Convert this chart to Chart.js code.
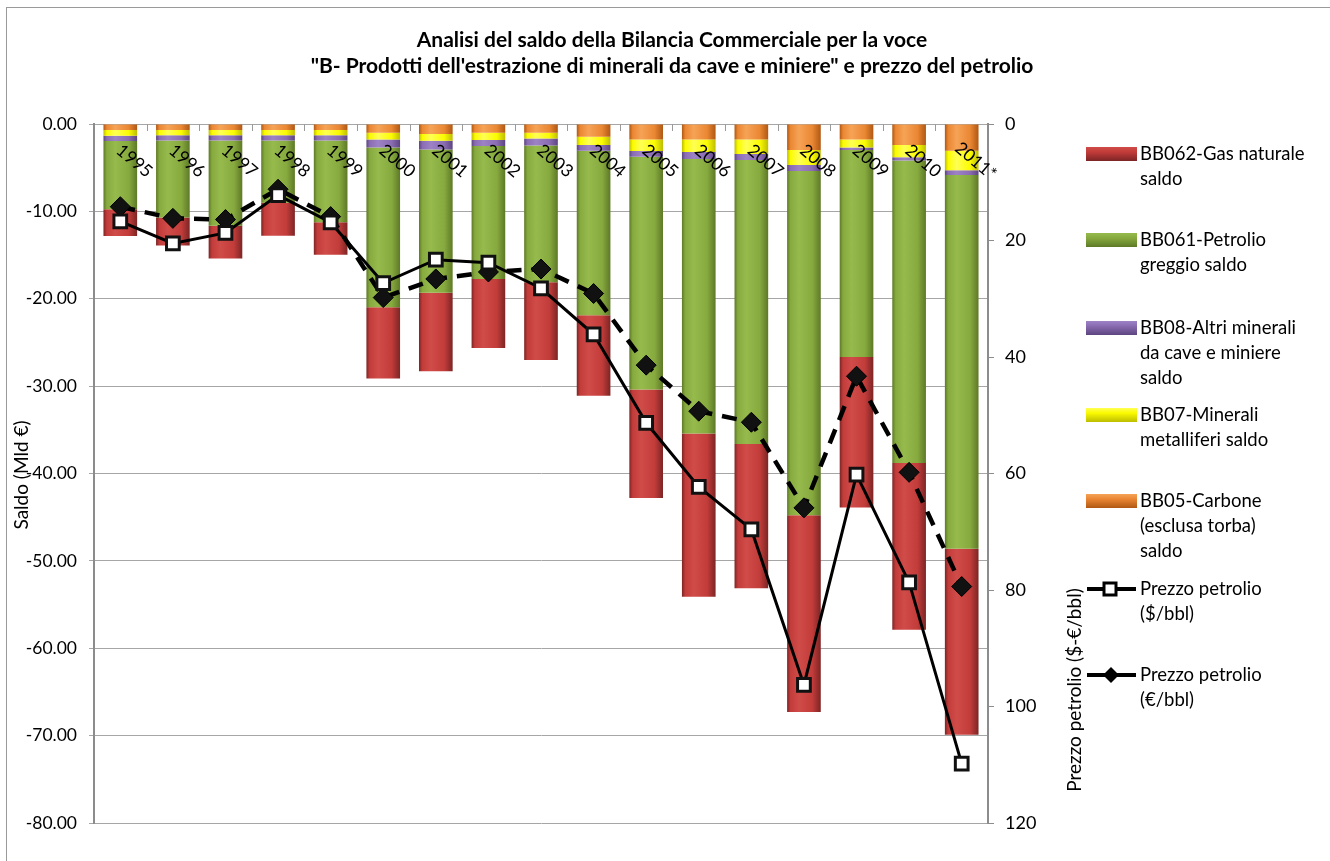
<!DOCTYPE html>
<html lang="it">
<head>
<meta charset="utf-8">
<title>Saldo Bilancia Commerciale - voce B</title>
<script src="https://cdn.jsdelivr.net/npm/chart.js@4.4.1/dist/chart.umd.min.js"></script>
<style>
    html, body { margin: 0; padding: 0; background: #ffffff; }
    #wrap { position: relative; width: 1330px; height: 861px; }
</style>
</head>
<body>
<div id="wrap"><canvas id="bilanciaChart"></canvas></div>
<script>
// Dati (Mld €, saldo negativo)
const anni = ['1995', '1996', '1997', '1998', '1999', '2000', '2001', '2002', '2003',
              '2004', '2005', '2006', '2007', '2008', '2009', '2010', '2011*'];

const carbone     = [-0.70, -0.70, -0.70, -0.70, -0.70, -1.00, -1.15, -1.00, -1.00, -1.45, -1.76, -1.76, -1.76, -2.98, -1.76, -2.40, -3.06];
const metalliferi = [-0.65, -0.60, -0.60, -0.60, -0.60, -0.76, -0.76, -0.84, -0.65, -0.95, -1.34, -1.45, -1.68, -1.72, -0.92, -1.41, -2.22];
const altriMinerali = [-0.60, -0.60, -0.60, -0.60, -0.60, -0.92, -1.00, -0.69, -0.80, -0.65, -0.65, -0.80, -0.69, -0.69, -0.30, -0.38, -0.57];
const petrolio    = [-7.80, -8.80, -9.75, -7.10, -9.35, -18.30, -16.40, -15.20, -15.65, -18.85, -26.65, -31.40, -32.50, -39.40, -23.70, -34.60, -42.75];
const gasNaturale = [-3.06, -3.20, -3.75, -3.80, -3.70, -8.15, -9.00, -7.90, -8.90, -9.20, -12.40, -18.70, -16.50, -22.50, -17.20, -19.10, -21.30];

// Prezzo del petrolio (asse destro, invertito)
const prezzoDollari = [16.7, 20.5, 18.7, 12.2, 16.9, 27.3, 23.3, 23.8, 28.2, 36.1, 51.3, 62.3, 69.6, 96.3, 60.2, 78.7, 109.8];
const prezzoEuro    = [14.2, 16.2, 16.4, 11.2, 15.9, 29.8, 26.6, 25.4, 24.9, 29.1, 41.4, 49.3, 51.2, 65.9, 43.3, 59.8, 79.4];

const tickSinistra = { min: -80, max: 0, passo: 10 };
const tickDestra = { min: 0, max: 120, passo: 20 };

const FONT = 'Lato, "Open Sans", sans-serif';
const LARGHEZZA_BARRA = 0.64;

// Colori delle serie: [bordo scuro, medio, chiaro]
const colori = {
    gas:         ['#7c2525', '#c23c3a', '#d04c49'],
    petrolio:    ['#5e7927', '#87aa3f', '#96ba4c'],
    altri:       ['#5c4580', '#8a6cb2', '#9d82c6'],
    metalliferi: ['#bdbd00', '#fbfb00', '#ffff55'],
    carbone:     ['#b05813', '#ea8733', '#f6a356']
};

// Sfumatura orizzontale per dare l'effetto "3D" delle barre
function sfumaturaBarra(tono) {
    return function(ctx) {
        const chart = ctx.chart;
        const xs = chart.scales.x;
        if (!xs || ctx.type !== 'data' || !chart.chartArea) return tono[1];
        const cx = xs.getPixelForValue(ctx.dataIndex);
        const meta = xs.width / anni.length * LARGHEZZA_BARRA / 2;
        if (!Number.isFinite(cx) || !Number.isFinite(meta) || meta <= 0) return tono[1];
        const g = chart.ctx.createLinearGradient(cx - meta, 0, cx + meta, 0);
        g.addColorStop(0, tono[0]);
        g.addColorStop(0.1, tono[1]);
        g.addColorStop(0.35, tono[2]);
        g.addColorStop(0.75, tono[1]);
        g.addColorStop(1, tono[0]);
        return g;
    };
}

function serieBarre(label, dati, tono) {
    return {
        type: 'bar',
        label: label,
        data: dati,
        yAxisID: 'y',
        stack: 'saldo',
        order: 1,
        backgroundColor: sfumaturaBarra(tono),
        borderWidth: 0,
        categoryPercentage: 1,
        barPercentage: LARGHEZZA_BARRA
    };
}

// Voci della legenda (a destra)
const legenda = [
    { tipo: 'barra', tono: colori.gas, righe: ['BB062-Gas naturale', 'saldo'], y: 154 },
    { tipo: 'barra', tono: colori.petrolio, righe: ['BB061-Petrolio', 'greggio saldo'], y: 240 },
    { tipo: 'barra', tono: colori.altri, righe: ['BB08-Altri minerali', 'da cave e miniere', 'saldo'], y: 328 },
    { tipo: 'barra', tono: colori.metalliferi, righe: ['BB07-Minerali', 'metalliferi saldo'], y: 415 },
    { tipo: 'barra', tono: colori.carbone, righe: ['BB05-Carbone', '(esclusa torba)', 'saldo'], y: 501 },
    { tipo: 'dollaro', righe: ['Prezzo petrolio', '($/bbl)'], y: 589 },
    { tipo: 'euro', righe: ['Prezzo petrolio', '(€/bbl)'], y: 675 }
];

const decorazioni = {
    id: 'decorazioni',
    beforeDraw(chart) {
        const c = chart.ctx;
        c.save();
        c.fillStyle = '#ffffff';
        c.fillRect(0, 0, chart.width, chart.height);
        c.strokeStyle = '#9a9a9a';
        c.lineWidth = 1;
        c.strokeRect(6.5, 7.5, chart.width + 10, chart.height + 10);
        c.restore();
    },
    afterDatasetDraw(chart, args) {
        // le etichette degli anni vanno sopra le barre ma sotto le linee
        if (chart.data.datasets[args.index].label !== 'BB05-Carbone (esclusa torba) saldo') return;
        const c = chart.ctx;
        const xs = chart.scales.x;
        const area = chart.chartArea;
        c.save();
        // tacche dell'asse delle categorie
        c.strokeStyle = '#9a9a9a';
        c.lineWidth = 1;
        const passo = xs.width / anni.length;
        for (let i = 1; i < anni.length; i++) {
            const x = Math.round(area.left + passo * i) + 0.5;
            c.beginPath();
            c.moveTo(x, area.top);
            c.lineTo(x, area.top + 7);
            c.stroke();
        }
        c.fillStyle = '#000000';
        c.font = '17.5px ' + FONT;
        c.textAlign = 'center';
        c.textBaseline = 'middle';
        anni.forEach((anno, i) => {
            const x = xs.getPixelForValue(i);
            c.save();
            c.translate(x + 14, area.top + 37);
            c.rotate(40 * Math.PI / 180);
            c.fillText(anno, 0, 0);
            c.restore();
        });
        c.restore();
    },
    afterDraw(chart) {
        const c = chart.ctx;
        c.save();
        c.fillStyle = '#000000';

        // Titolo
        c.font = 'bold 21px ' + FONT;
        c.textAlign = 'center';
        c.textBaseline = 'middle';
        c.fillText('Analisi del saldo della Bilancia Commerciale per la voce', 672, 40);
        c.fillText('"B- Prodotti dell\'estrazione di minerali da cave e miniere" e prezzo del petrolio', 672, 66);

        // Titoli degli assi
        c.font = '19px ' + FONT;
        c.save();
        c.translate(22, 475);
        c.rotate(-Math.PI / 2);
        c.fillText('Saldo (Mld €)', 0, 0);
        c.restore();
        c.save();
        c.translate(1075, 690);
        c.rotate(-Math.PI / 2);
        c.fillText('Prezzo petrolio ($-€/bbl)', 0, 0);
        c.restore();

        // Legenda
        c.textAlign = 'left';
        legenda.forEach(voce => {
            if (voce.tipo === 'barra') {
                const g = c.createLinearGradient(0, voce.y - 7, 0, voce.y + 7);
                g.addColorStop(0, voce.tono[2]);
                g.addColorStop(0.35, voce.tono[1]);
                g.addColorStop(1, voce.tono[0]);
                c.fillStyle = g;
                c.fillRect(1086, voce.y - 7, 51, 14);
            } else {
                c.strokeStyle = '#000000';
                c.lineWidth = 4;
                c.beginPath();
                c.moveTo(1087, voce.y);
                c.lineTo(1136, voce.y);
                c.stroke();
                if (voce.tipo === 'dollaro') {
                    c.fillStyle = '#ffffff';
                    c.lineWidth = 3;
                    c.fillRect(1104, voce.y - 6, 12, 12);
                    c.strokeRect(1104, voce.y - 6, 12, 12);
                } else {
                    c.fillStyle = '#000000';
                    c.beginPath();
                    c.moveTo(1111, voce.y - 8);
                    c.lineTo(1119, voce.y);
                    c.lineTo(1111, voce.y + 8);
                    c.lineTo(1103, voce.y);
                    c.closePath();
                    c.fill();
                }
            }
            c.fillStyle = '#000000';
            c.font = '18.5px ' + FONT;
            voce.righe.forEach((riga, k) => {
                c.fillText(riga, 1140, voce.y + k * 25);
            });
        });
        c.restore();
    }
};

const ctx = document.getElementById('bilanciaChart');

new Chart(ctx, {
    data: {
        labels: anni,
        datasets: [
            {
                type: 'line',
                label: 'Prezzo petrolio ($/bbl)',
                data: prezzoDollari,
                yAxisID: 'y2',
                order: 0,
                borderColor: '#000000',
                borderWidth: 3,
                pointStyle: 'rect',
                pointRadius: 9,
                pointBorderWidth: 3,
                pointBackgroundColor: '#ffffff',
                pointBorderColor: '#111111',
                tension: 0
            },
            {
                type: 'line',
                label: 'Prezzo petrolio (€/bbl)',
                data: prezzoEuro,
                yAxisID: 'y2',
                order: 0,
                borderColor: '#000000',
                borderWidth: 4.5,
                borderDash: [15, 10],
                pointStyle: 'rectRot',
                pointRadius: 10,
                pointBorderWidth: 1,
                pointBackgroundColor: '#111111',
                pointBorderColor: '#000000',
                tension: 0
            },
            serieBarre('BB05-Carbone (esclusa torba) saldo', carbone, colori.carbone),
            serieBarre('BB07-Minerali metalliferi saldo', metalliferi, colori.metalliferi),
            serieBarre('BB08-Altri minerali da cave e miniere saldo', altriMinerali, colori.altri),
            serieBarre('BB061-Petrolio greggio saldo', petrolio, colori.petrolio),
            serieBarre('BB062-Gas naturale saldo', gasNaturale, colori.gas)
        ]
    },
    options: {
        responsive: true,
        maintainAspectRatio: false,
        animation: false,
        events: [],
        layout: {
            padding: { top: 124, bottom: 38, left: 0, right: 0 }
        },
        plugins: {
            legend: { display: false },
            title: { display: false },
            tooltip: { enabled: false }
        },
        scales: {
            x: {
                display: false,
                stacked: true,
                offset: true
            },
            y: {
                stacked: true,
                min: tickSinistra.min,
                max: tickSinistra.max,
                afterFit: scale => { scale.width = 94; },
                ticks: {
                    stepSize: tickSinistra.passo,
                    padding: 12,
                    color: '#000000',
                    font: { family: FONT, size: 17.5 },
                    callback: v => v.toFixed(2)
                },
                grid: { color: '#a6a6a6', tickLength: 5, lineWidth: 1 },
                border: { color: '#8c8c8c', width: 2 }
            },
            y2: {
                position: 'right',
                reverse: true,
                min: tickDestra.min,
                max: tickDestra.max,
                afterFit: scale => { scale.width = 342; },
                ticks: {
                    stepSize: tickDestra.passo,
                    padding: 11,
                    color: '#000000',
                    font: { family: FONT, size: 18 }
                },
                grid: { drawOnChartArea: false, color: '#8c8c8c', tickLength: 6 },
                border: { color: '#8c8c8c', width: 2 }
            }
        }
    },
    plugins: [decorazioni]
});
</script>
</body>
</html>
